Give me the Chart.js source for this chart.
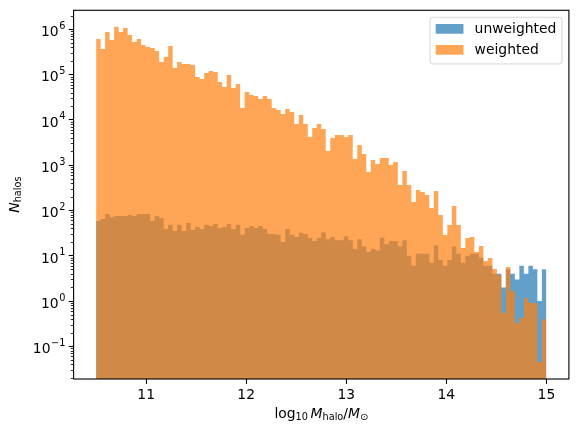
<!DOCTYPE html>
<html>
<head>
<meta charset="utf-8">
<script src="https://cdn.jsdelivr.net/npm/chart.js@4.4.1/dist/chart.umd.min.js"></script>
<style>
html,body{margin:0;padding:0;background:#ffffff;}
#wrap{width:578px;height:433px;position:relative;}
canvas{display:block;}
</style>
</head>
<body>
<div id="wrap"><canvas id="c" width="578" height="433"></canvas></div>
<script>
// ---- histogram definition ----
const binStart = 10.5;
const binWidth = 0.045;
const binCount = 100;

// ---- tick labels / axis limits ----
const xTickValues = [11, 12, 13, 14, 15];
const yTickExponents = [-1, 0, 1, 2, 3, 4, 5, 6];
const xLimits = [10.275, 15.225];
const yLimits = [0.019, 2.61e6];

// ---- series ----
const seriesLabels = ['unweighted', 'weighted'];

const unweighted = [
  58, 65, 83, 71, 75, 75, 75, 79, 75, 83,
  83, 83, 58, 75, 68, 39, 48, 35, 48, 35,
  53, 37, 43, 39, 48, 45, 50, 41, 43, 50,
  39, 48, 29, 41, 45, 41, 45, 39, 30, 30,
  29, 20, 39, 29, 26, 32, 30, 25, 21, 25,
  33, 23, 26, 22, 22, 27, 22, 14, 23, 16,
  12, 14, 13, 25, 18, 21, 21, 16, 22, 10,
  6, 11, 11, 11, 7, 17, 8, 6, 8, 16,
  11, 7, 10, 11, 11, 9, 6, 6, 4, 4,
  2, 5, 4, 3, 6, 4, 6, 5, 1, 5
];

const weighted = [
  6.1e5, 3.66e5, 8.67e5, 5.78e5, 1.135e6, 8.7e5, 1.06e6, 7.45e5, 5.22e5, 6.1e5,
  4.48e5, 4.05e5, 3.85e5, 3.30e5, 1.89e5, 2.43e5, 4.26e5, 1.39e5, 1.89e5, 1.71e5,
  1.71e5, 1.62e5, 8.8e4, 7.96e4, 1.08e5, 1.19e5, 1.14e5, 6.83e4, 5.30e4, 9.75e4,
  5.04e4, 6.17e4, 1.82e4, 4.11e4, 3.53e4, 3.35e4, 2.88e4, 3.35e4, 2.88e4, 1.82e4,
  1.65e4, 1.34e4, 1.73e4, 1.49e4, 8.07e3, 1.28e4, 8.07e3, 4.17e3, 6.59e3, 8.07e3,
  6.27e3, 2.05e3, 3.96e3, 4.62e3, 4.62e3, 4.17e3, 4.62e3, 1.36e3, 2.78e3, 1.76e3,
  704, 1300, 1060, 1440, 1440, 1000, 1170, 364, 741, 364,
  153, 282, 255, 219, 113, 268, 79, 28.6, 47.6, 125,
  47.6, 14.8, 24.6, 25.9, 12.1, 16.4, 7.64, 8.90, 5.09, 3.75,
  0.543, 5.63, 1.66, 0.327, 0.421, 1.16, 0.90, 0.90, 0.045, 0.40
];

// ---- style ----
const BLUE = 'rgba(31,119,180,0.7)';
const ORANGE = 'rgba(255,127,14,0.7)';
const FONT = 'DejaVu Sans';
const FS = 13.9;
const SUB = FS * 0.7;

// bin edges (histogram bins)
const binEdges = [];
for (let i = 0; i <= binCount; i++) binEdges.push(+(binStart + i * binWidth).toFixed(4));

function stepPoints(values) {
  const pts = values.map((v, i) => ({x: binEdges[i], y: v}));
  pts.push({x: binEdges[values.length], y: values[values.length - 1]});
  return pts;
}

function drawMath(ctx, parts, startX, baseY) {
  let x = startX;
  parts.forEach(p => {
    if (p.gap) { x += p.gap; return; }
    ctx.font = (p.it ? 'oblique ' : '') + p.s + 'px "' + FONT + '"';
    ctx.fillText(p.t, x, baseY + (p.dy || 0));
    x += ctx.measureText(p.t).width;
  });
}
function mathWidth(ctx, parts) {
  let w = 0;
  parts.forEach(p => {
    if (p.gap) { w += p.gap; return; }
    ctx.font = (p.it ? 'oblique ' : '') + p.s + 'px "' + FONT + '"';
    w += ctx.measureText(p.t).width;
  });
  return w;
}

const xLabelParts = [
  {t: 'log', s: FS}, {t: '10', s: SUB, dy: 2.2}, {gap: 2.6},
  {t: 'M', s: FS, it: true}, {t: 'halo', s: SUB, dy: 2.2},
  {t: '/', s: FS}, {t: 'M', s: FS, it: true}, {t: '\u2299', s: SUB, dy: 2.2}
];
const yLabelParts = [{t: 'N', s: FS, it: true}, {t: 'halos', s: SUB, dy: 2.2}];

const decor = {
  id: 'mplDecor',
  afterDatasetsDraw(chart) {
    const {ctx, chartArea: a} = chart;
    ctx.save();
    ctx.strokeStyle = '#000';
    ctx.lineWidth = 1.11;
    ctx.strokeRect(a.left, a.top, a.right - a.left, a.bottom - a.top);
    ctx.restore();
  },
  afterDraw(chart) {
    const {ctx, chartArea: a} = chart;
    const yS = chart.scales.y;
    ctx.save();
    ctx.fillStyle = '#000';
    ctx.strokeStyle = '#000';

    // minor y ticks
    ctx.lineWidth = 0.83;
    for (let e = -2; e <= 6; e++) {
      for (let k = 2; k <= 9; k++) {
        const v = k * Math.pow(10, e);
        if (v < yS.min || v > yS.max) continue;
        const py = Math.round(yS.getPixelForValue(v)) + 0.5;
        ctx.beginPath();
        ctx.moveTo(a.left - 2.78, py);
        ctx.lineTo(a.left, py);
        ctx.stroke();
      }
    }

    // y tick labels 10^n
    ctx.textBaseline = 'alphabetic';
    ctx.textAlign = 'left';
    const right = a.left - 8.2;
    yTickExponents.forEach(e => {
      const py = yS.getPixelForValue(Math.pow(10, e));
      const expStr = e < 0 ? '\u2212' + (-e) : String(e);
      ctx.font = SUB + 'px "' + FONT + '"';
      const we = ctx.measureText(expStr).width;
      ctx.font = FS + 'px "' + FONT + '"';
      const wb = ctx.measureText('10').width;
      const base = py + 1.8 + 0.729 * FS / 2;
      ctx.fillText('10', right - we - wb - 0.6, base);
      ctx.font = SUB + 'px "' + FONT + '"';
      ctx.fillText(expStr, right - we, base - 7.2);
    });

    // x axis label
    const xw = mathWidth(ctx, xLabelParts);
    drawMath(ctx, xLabelParts, (a.left + a.right) / 2 - xw / 2, 417.7);

    // y axis label (rotated)
    const yw = mathWidth(ctx, yLabelParts);
    ctx.save();
    ctx.translate(18.5, (a.top + a.bottom) / 2);
    ctx.rotate(-Math.PI / 2);
    drawMath(ctx, yLabelParts, -yw / 2, 0);
    ctx.restore();

    // legend
    const items = chart.data.datasets.map(d => ({label: d.label, color: d.backgroundColor}));
    ctx.font = FS + 'px "' + FONT + '"';
    let tw = 0;
    items.forEach(it => { tw = Math.max(tw, ctx.measureText(it.label).width); });
    const pad = 5.56, hl = 27.8, hh = 9.73, htp = 11.1, rowH = 21;
    const fw = pad + hl + htp + tw + pad;
    const fh = 46.7;
    const fx = a.right - 6.95 - fw;
    const fy = a.top + 6.95;
    const r = 2.8;
    ctx.beginPath();
    ctx.moveTo(fx + r, fy);
    ctx.arcTo(fx + fw, fy, fx + fw, fy + fh, r);
    ctx.arcTo(fx + fw, fy + fh, fx, fy + fh, r);
    ctx.arcTo(fx, fy + fh, fx, fy, r);
    ctx.arcTo(fx, fy, fx + fw, fy, r);
    ctx.closePath();
    ctx.fillStyle = 'rgba(255,255,255,0.8)';
    ctx.fill();
    ctx.strokeStyle = 'rgba(204,204,204,0.8)';
    ctx.lineWidth = 1;
    ctx.stroke();
    items.forEach((it, i) => {
      const py = fy + 6.75 + i * rowH;
      ctx.fillStyle = it.color;
      ctx.fillRect(fx + pad, py, hl, hh);
      ctx.fillStyle = '#000';
      ctx.font = FS + 'px "' + FONT + '"';
      ctx.fillText(it.label, fx + pad + hl + htp, py + 9.3);
    });
    ctx.restore();
  }
};

const gridOpts = {
  display: true, drawOnChartArea: false, drawTicks: true,
  tickLength: 4.86, tickWidth: 1.11, tickColor: '#000'
};

new Chart(document.getElementById('c').getContext('2d'), {
  type: 'line',
  data: {
    datasets: [
      {label: seriesLabels[0], data: stepPoints(unweighted), backgroundColor: BLUE,
       borderColor: 'rgba(0,0,0,0)', borderWidth: 0, pointRadius: 0, fill: 'start',
       stepped: 'before', tension: 0, order: 1},
      {label: seriesLabels[1], data: stepPoints(weighted), backgroundColor: ORANGE,
       borderColor: 'rgba(0,0,0,0)', borderWidth: 0, pointRadius: 0, fill: 'start',
       stepped: 'before', tension: 0, order: 0}
    ]
  },
  options: {
    responsive: false, animation: false, events: [],
    layout: {padding: {left: 0, right: 9.1, top: 10.3, bottom: 0}},
    plugins: {legend: {display: false}, tooltip: {enabled: false}},
    scales: {
      x: {
        type: 'linear', min: xLimits[0], max: xLimits[1],
        afterBuildTicks: s => { s.ticks = xTickValues.map(v => ({value: v})); },
        afterFit: s => { s.height = 54; },
        ticks: {autoSkip: false, maxRotation: 0, minRotation: 0, color: '#000', padding: 3,
                font: {family: FONT, size: FS}, callback: v => String(v)},
        grid: gridOpts, border: {display: false}
      },
      y: {
        type: 'logarithmic', min: yLimits[0], max: yLimits[1],
        afterBuildTicks: s => { s.ticks = yTickExponents.map(e => ({value: Math.pow(10, e)})); },
        afterFit: s => { s.width = 73.6; },
        ticks: {display: false},
        grid: gridOpts, border: {display: false}
      }
    }
  },
  plugins: [decor]
});
</script>
</body>
</html>
